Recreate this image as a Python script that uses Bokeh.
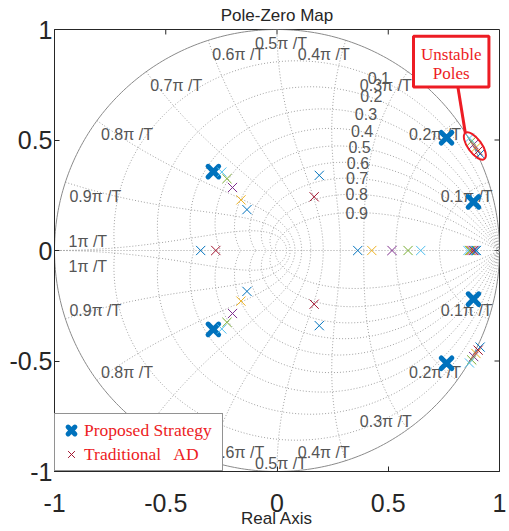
import numpy as np
from bokeh.plotting import figure
from bokeh.models import Range1d, FixedTicker, Label, Legend, LegendItem
from bokeh.embed import file_html
from bokeh.resources import INLINE
from bokeh.core.properties import value

# ---------------- data ----------------
tick_values = [-1, -0.5, 0, 0.5, 1]
tick_labels = ["-1", "-0.5", "0", "0.5", "1"]

zeta_grid = [0.1, 0.2, 0.3, 0.4, 0.5, 0.6, 0.7, 0.8, 0.9]
wn_grid = [0.1, 0.2, 0.3, 0.4, 0.5, 0.6, 0.7, 0.8, 0.9, 1.0]  # natural frequency, x pi/T

# Proposed Strategy poles
proposed_re = [-0.286, -0.286, 0.762, 0.762, 0.883, 0.883]
proposed_im = [0.357, -0.357, 0.510, -0.510, 0.220, -0.220]

# Traditional AD poles (one case per colour)
case1_re = [-0.135, -0.135, 0.363, 0.913, 0.913, 0.890]
case1_im = [0.185, -0.185, 0.0, 0.437, -0.437, 0.0]
case2_re = [-0.162, -0.162, 0.426, 0.894, 0.894, 0.870]
case2_im = [0.229, -0.229, 0.0, 0.466, -0.466, 0.0]
case3_re = [-0.200, -0.200, 0.517, 0.884, 0.884, 0.876]
case3_im = [0.285, -0.285, 0.0, 0.480, -0.480, 0.0]
case4_re = [-0.225, -0.225, 0.589, 0.875, 0.875, 0.866]
case4_im = [0.325, -0.325, 0.0, 0.495, -0.495, 0.0]
case5_re = [-0.248, -0.248, 0.646, 0.865, 0.865, 0.858]
case5_im = [0.355, -0.355, 0.0, 0.509, -0.509, 0.0]
case6_re = [-0.275, 0.167, 0.167, 0.904, 0.904, 0.884]
case6_im = [0.0, 0.243, -0.243, 0.451, -0.451, 0.0]
case7_re = [-0.343, 0.190, 0.190, 0.896]
case7_im = [0.0, 0.340, -0.340, 0.0]

case_colors = ["#0072BD", "#EDB120", "#7E2F8E", "#77AC30", "#4DBEEE", "#A2142F", "#0072BD"]

# ---------------- style ----------------
FONT = "Liberation Sans"
SERIF = "Liberation Serif"
RED = "#ed1c24"
GRID_COLOR = "#a0a0a0"
LABEL_COLOR = "#555555"
PX = 2.0 / 445.0   # data units per pixel (x)
PY = 2.0 / 444.0   # data units per pixel (y)

p = figure(width=509, height=531, output_backend="svg", toolbar_location=None,
           x_range=Range1d(-1, 1), y_range=Range1d(-1, 1),
           min_border_left=54, min_border_right=10, min_border_top=27, min_border_bottom=60)
p.background_fill_color = "white"
p.border_fill_color = "white"
p.outline_line_color = "#262626"
p.outline_line_width = 1
p.grid.visible = False

p.title.text = "Pole-Zero Map"
p.title.text_font = FONT
p.title.text_font_size = "17px"
p.title.text_font_style = "normal"
p.title.text_color = "#262626"
p.title.align = "center"
p.title.vertical_align = "middle"
p.title.offset = 10
p.title.standoff = 8

overrides = {v: s for v, s in zip(tick_values, tick_labels)}
for ax in (p.xaxis[0], p.yaxis[0]):
    ax.ticker = FixedTicker(ticks=tick_values)
    ax.major_label_overrides = overrides
    ax.major_label_text_font = FONT
    ax.major_label_text_font_size = "25px"
    ax.major_label_text_color = "#262626"
    ax.major_tick_in = 5
    ax.major_tick_out = 0
    ax.minor_tick_line_color = None
    ax.axis_line_color = "#262626"
    ax.major_tick_line_color = "#262626"
p.xaxis.major_label_standoff = 22
p.yaxis.major_label_standoff = 2
p.xaxis.axis_label = "Real Axis"
p.xaxis.axis_label_text_font = FONT
p.xaxis.axis_label_text_font_size = "17px"
p.xaxis.axis_label_text_font_style = "normal"
p.xaxis.axis_label_text_color = "#262626"
p.xaxis.axis_label_standoff = -6

# ticks on top and right edges of the box
tv = np.array(tick_values[1:-1], dtype=float)
p.segment(x0=tv, y0=np.ones_like(tv), x1=tv, y1=np.ones_like(tv) - 5 * PY, line_color="#262626")
p.segment(x0=np.ones_like(tv), y0=tv, x1=np.ones_like(tv) - 5 * PX, y1=tv, line_color="#262626")

# y axis title (drawn as text so that it sits like MATLAB's)
p.add_layout(Label(x=-1 - 34 * PX, y=0, text="Imaginary Axis", angle=np.pi / 2,
                   text_align="center", text_baseline="middle", text_font=FONT,
                   text_font_size="17px", text_color="#262626"))

# ---------------- z-plane grid ----------------
xs, ys = [], []
t = np.linspace(0, np.pi, 200)
for z in zeta_grid:
    m = z / np.sqrt(1 - z * z)
    zz = np.exp(t * (-m + 1j))
    xs += [zz.real, zz.real]
    ys += [zz.imag, -zz.imag]
phi = np.linspace(np.pi / 2, np.pi, 120)
for w in wn_grid:
    zz = np.exp(w * np.pi * np.exp(1j * phi))
    xs += [zz.real, zz.real]
    ys += [zz.imag, -zz.imag]
xs.append(np.array([-1.0, 1.0]))
ys.append(np.array([0.0, 0.0]))
p.multi_line(xs, ys, line_color=GRID_COLOR, line_width=1, line_dash="1 2")

th = np.linspace(0, 2 * np.pi, 400)
p.line(np.cos(th), np.sin(th), line_color="#8a8a8a", line_width=1)

# damping labels
W_LABEL = 1.06
zl = [np.exp(W_LABEL * (-z + 1j * np.sqrt(1 - z * z))) for z in zeta_grid]
p.text(x=[c.real + 3 * PX for c in zl], y=[c.imag for c in zl], text=[f"{z:g}" for z in zeta_grid],
       text_align="center", text_baseline="middle", text_font=value(FONT),
       text_font_size="16px", text_color=LABEL_COLOR)

# natural frequency labels
groups = {"left": ([], [], []), "right": ([], [], []), "center": ([], [], [])}
for w in wn_grid:
    a = w * np.pi
    c, s = np.cos(a), np.sin(a)
    lab = f"{w:g}\u03c0 /T"
    align = "center" if abs(c) < 1e-9 else ("right" if c > 0 else "left")
    if w == 1.0:
        dx, up, dn = 14, 9, -16
    else:
        dx, up, dn = 4, -14, 8
    g = groups[align]
    g[0].extend([c + dx * PX, c + dx * PX])
    g[1].extend([s + up * PY, -s + dn * PY])
    g[2].extend([lab, lab])
for align, (gx, gy, gt) in groups.items():
    if gx:
        p.text(x=gx, y=gy, text=gt, text_align=align, text_baseline="middle",
               text_font=value(FONT), text_font_size="16px", text_color=LABEL_COLOR)

# ---------------- poles ----------------
r_prop = p.scatter(proposed_re, proposed_im, marker="x", size=15, line_width=5,
                   line_color="#0072BD", line_cap="round")

cases = [(case1_re, case1_im), (case2_re, case2_im), (case3_re, case3_im),
         (case4_re, case4_im), (case5_re, case5_im), (case6_re, case6_im),
         (case7_re, case7_im)]
trad_renderers = []
for (cr, ci), col in zip(cases, case_colors):
    trad_renderers.append(p.scatter(cr, ci, marker="x", size=13, line_width=1, line_color=col))
r_trad = trad_renderers[5]

# ---------------- "Unstable Poles" callout ----------------
ucx = float(np.mean([cr[3] for cr, ci in cases[:6]]))
ucy = float(np.mean([ci[3] for cr, ci in cases[:6]]))
ell_w, ell_h, ell_a = 0.145, 0.062, -0.94
p.ellipse(x=[ucx], y=[ucy], width=[ell_w], height=[ell_h], angle=[ell_a],
          fill_color=None, line_color=RED, line_width=2)
box_x, box_y, box_w, box_h = 0.783, 0.855, 0.339, 0.23
top_end = (ucx - ell_w / 2 * np.cos(ell_a), ucy - ell_w / 2 * np.sin(ell_a))
p.line([box_x + 0.03, top_end[0]], [box_y - box_h / 2, top_end[1]], line_color=RED, line_width=3)
p.rect(x=[box_x], y=[box_y], width=[box_w], height=[box_h], fill_color="white",
       line_color=RED, line_width=3)
p.text(x=[box_x, box_x], y=[box_y + 0.032, box_y - 0.053], text=["Unstable", "Poles"],
       text_align="center", text_baseline="middle", text_font=value(SERIF),
       text_font_size="17px", text_color=RED)

# ---------------- legend ----------------
legend = Legend(items=[LegendItem(label="Proposed Strategy", renderers=[r_prop]),
                       LegendItem(label="Traditional\u00a0\u00a0 AD", renderers=[r_trad])],
                location="bottom_left")
legend.margin = 0
legend.padding = 4
legend.spacing = 0
legend.glyph_width = 24
legend.glyph_height = 24
legend.label_height = 24
legend.label_width = 134
legend.label_standoff = 1
legend.label_text_font = SERIF
legend.label_text_font_size = "17.5px"
legend.label_text_color = RED
legend.border_line_color = "#262626"
legend.border_line_width = 1
legend.background_fill_alpha = 1
p.add_layout(legend)

open("out.html", "w").write(file_html(p, INLINE))
